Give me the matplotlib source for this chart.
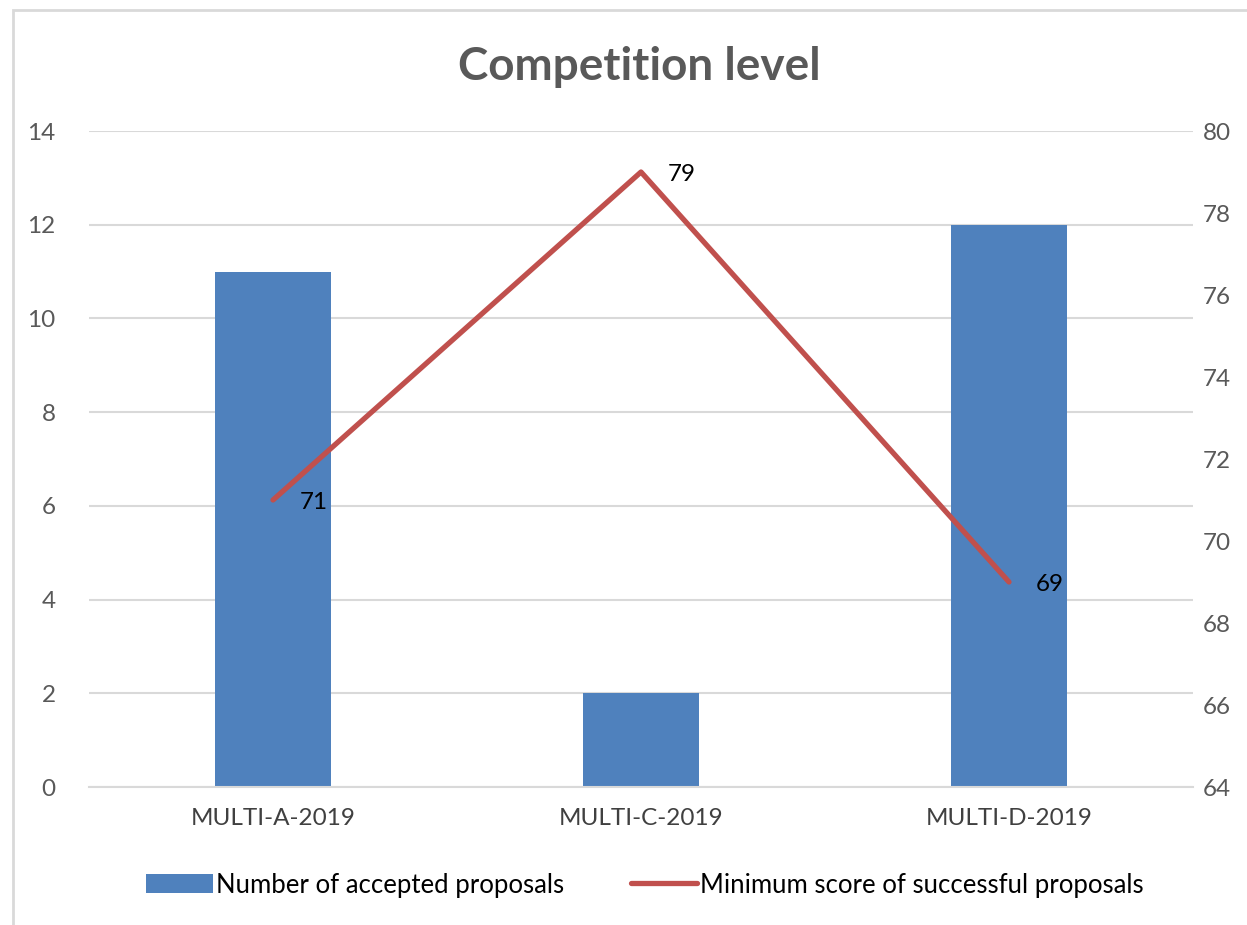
import matplotlib.pyplot as plt
from matplotlib.patches import Rectangle

# === DATA ===
CATEGORIES = ['MULTI-A-2019', 'MULTI-C-2019', 'MULTI-D-2019']
ACCEPTED = [11, 2, 12]
MIN_SCORE = [71, 79, 69]
LEFT_TICKS = [0, 2, 4, 6, 8, 10, 12, 14]
RIGHT_TICKS = [64, 66, 68, 70, 72, 74, 76, 78, 80]

BAR_COLOR = '#4F81BD'
LINE_COLOR = '#C0504D'
GRID_COLOR = '#D9D9D9'
TEXT_COLOR = '#595959'

plt.rcParams['font.family'] = ['Lato', 'DejaVu Sans']

fig = plt.figure(figsize=(12.47, 9.25), dpi=100)
fig.patches.append(Rectangle((13 / 1247, -0.1), 1.2, (925 - 10) / 925 + 0.1,
                             transform=fig.transFigure, fill=False,
                             edgecolor='#D9D9D9', linewidth=2))

ax = fig.add_axes([89 / 1247, 138 / 925, 1104 / 1247, 656 / 925])
x = list(range(len(CATEGORIES)))
ax.bar(x, ACCEPTED, width=0.315, color=BAR_COLOR, zorder=2,
       label='Number of accepted proposals')
ax.set_xlim(-0.5, len(CATEGORIES) - 0.5)
ax.set_ylim(0, 14)
ax.set_yticks(LEFT_TICKS)
ax.set_xticks(x)
ax.set_xticklabels(CATEGORIES, color='#404040')
ax.grid(axis='y', color=GRID_COLOR, linewidth=1.5, zorder=0)
for s in ['top', 'left', 'right']:
    ax.spines[s].set_visible(False)
ax.spines['bottom'].set_color(GRID_COLOR)
ax.spines['bottom'].set_linewidth(1.5)
ax.tick_params(axis='both', length=0, labelsize=17.5, labelcolor=TEXT_COLOR)
ax.tick_params(axis='y', pad=24)
ax.tick_params(axis='x', pad=15)
for t in ax.get_xticklabels():
    t.set_color('#404040')

ax2 = ax.twinx()
ax2.plot(x, MIN_SCORE, color=LINE_COLOR, linewidth=3.8, zorder=3,
         solid_capstyle='round', label='Minimum score of successful proposals')
ax2.set_ylim(64, 80)
ax2.set_yticks(RIGHT_TICKS)
for s in ['top', 'left', 'right', 'bottom']:
    ax2.spines[s].set_visible(False)
ax2.tick_params(axis='y', length=0, labelsize=17.5, labelcolor=TEXT_COLOR, pad=7)
for xi, v in zip(x, MIN_SCORE):
    ax2.annotate(str(v), (xi, v), xytext=(19, -2), textcoords='offset points',
                 ha='left', va='center', fontsize=17.5, color='black')

fig.text(639 / 1247, 1 - 67 / 925, 'Competition level', ha='center', va='center',
         fontsize=33, fontweight='bold', color=TEXT_COLOR)

h1, l1 = ax.get_legend_handles_labels()
h2, l2 = ax2.get_legend_handles_labels()
fig.legend(h1 + h2, l1 + l2, loc='center', bbox_to_anchor=(645 / 1247, 1 - 885 / 925),
           ncol=2, frameon=False, fontsize=18.5, handlelength=2.6, handletextpad=0.1,
           columnspacing=2.6, handleheight=0.8)

fig.savefig('out.png', dpi=100)
